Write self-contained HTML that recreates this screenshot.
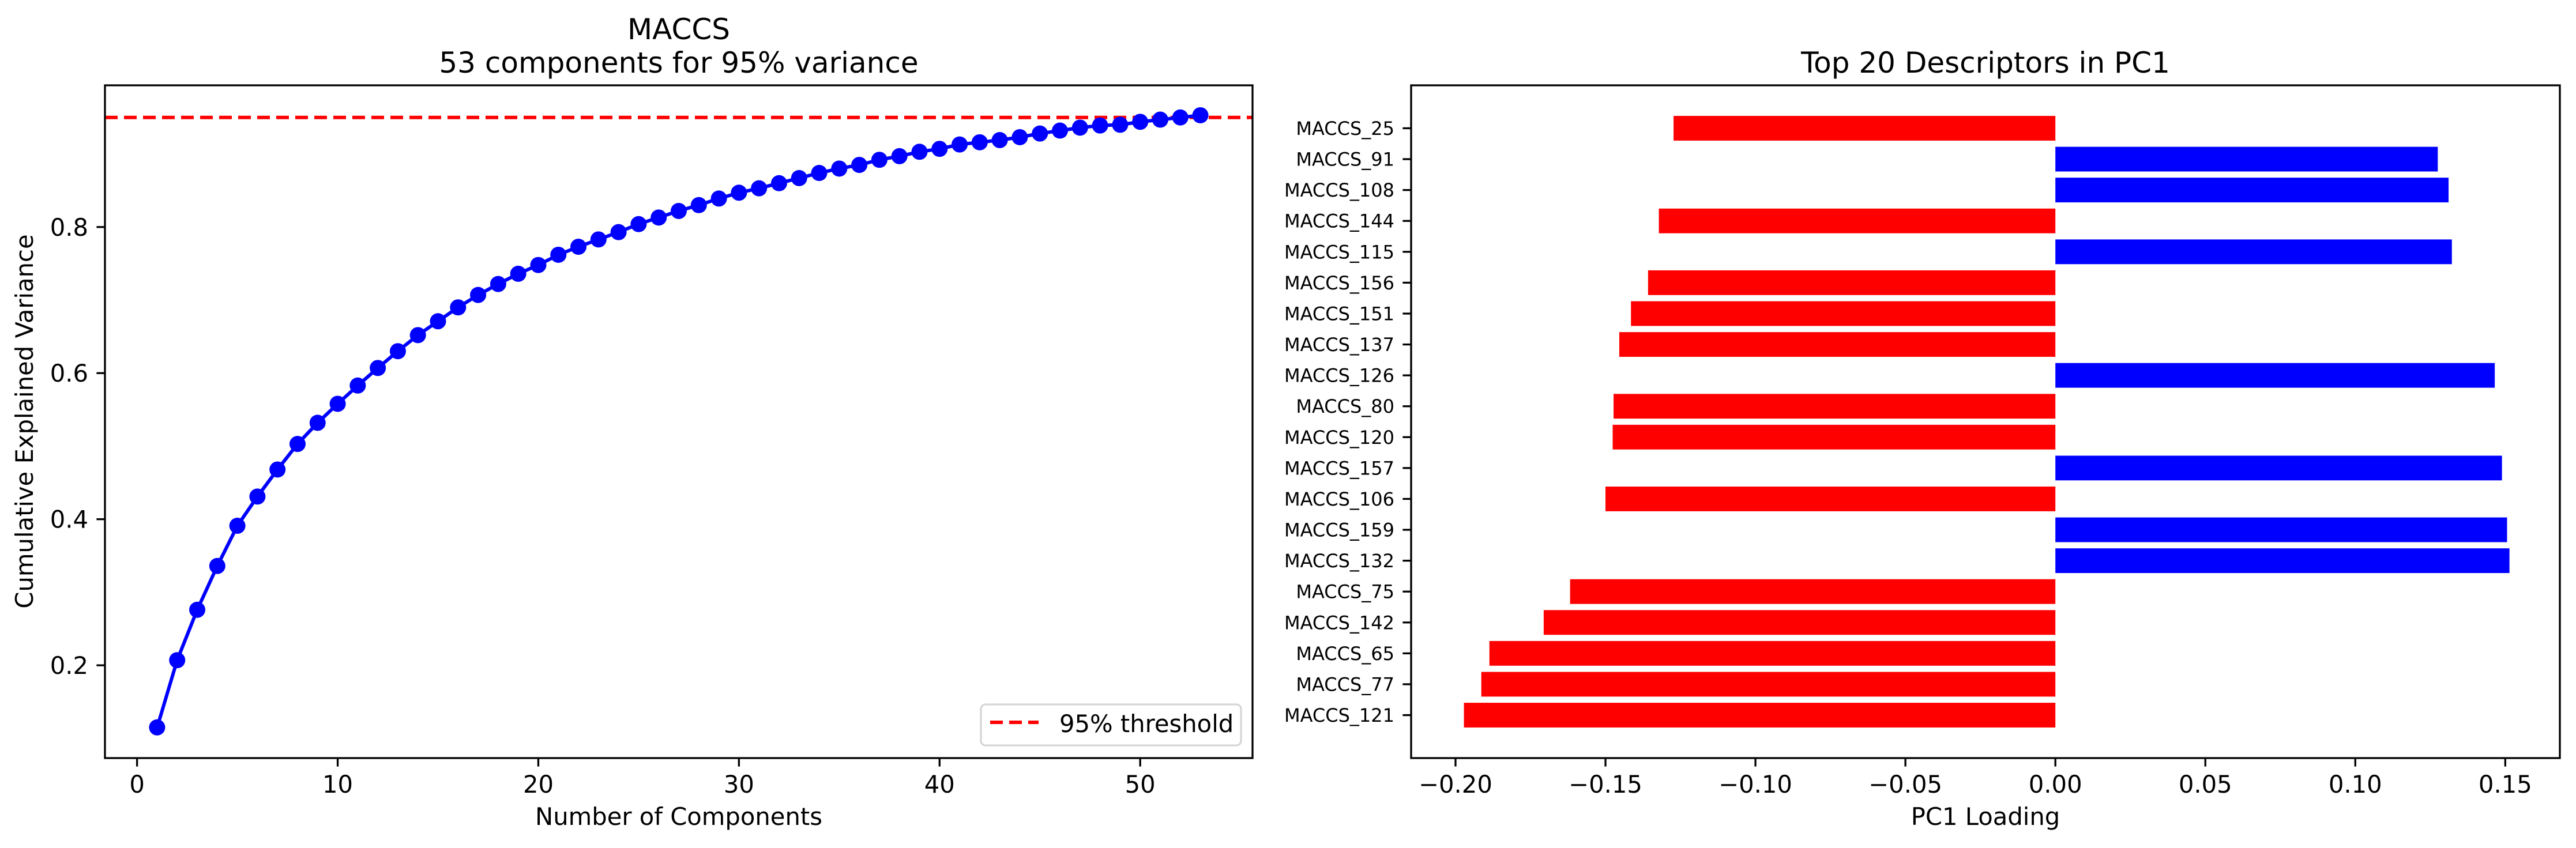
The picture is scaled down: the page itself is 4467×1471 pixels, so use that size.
<!DOCTYPE html>
<html><head><meta charset="utf-8"><style>
html,body{margin:0;padding:0;background:#fff;}
svg{display:block;font-family:"DejaVu Sans","Liberation Sans",sans-serif;}
</style></head>
<body>
<svg id="fig" width="4467" height="1471" viewBox="0 0 4467 1471" xmlns="http://www.w3.org/2000/svg">
<rect width="4467" height="1471" fill="#fff"/>
<g id="left"></g>
<g id="right"></g>
</svg>
<script>
const cumVariance = [0.115,0.207,0.276,0.336,0.391,0.431,0.468,0.503,0.532,0.558,0.583,0.607,0.630,0.652,0.671,0.690,0.707,0.722,0.736,0.748,0.762,0.773,0.783,0.793,0.804,0.813,0.822,0.830,0.839,0.847,0.853,0.860,0.867,0.874,0.880,0.885,0.892,0.897,0.903,0.907,0.913,0.916,0.919,0.923,0.928,0.932,0.936,0.939,0.940,0.944,0.947,0.950,0.953];
const threshold = 0.95;
const leftXTicks = [0,10,20,30,40,50];
const leftYTicks = [0.2,0.4,0.6,0.8];
const descriptors = ["MACCS_121","MACCS_77","MACCS_65","MACCS_142","MACCS_75","MACCS_132","MACCS_159","MACCS_106","MACCS_157","MACCS_120","MACCS_80","MACCS_126","MACCS_137","MACCS_151","MACCS_156","MACCS_115","MACCS_144","MACCS_108","MACCS_91","MACCS_25"];
const loadings = [-0.1972,-0.1914,-0.1887,-0.1706,-0.1618,0.1514,0.1506,-0.150,0.1489,-0.1476,-0.1473,0.1465,-0.1454,-0.1415,-0.1358,0.1322,-0.1322,0.1311,0.1275,-0.1273];
const rightXTicks = [-0.20,-0.15,-0.10,-0.05,0.00,0.05,0.10,0.15];

const NS="http://www.w3.org/2000/svg";
function mk(parent,tag,attrs,text){const e=document.createElementNS(NS,tag);for(const k in attrs)e.setAttribute(k,attrs[k]);if(text!==undefined)e.textContent=text;parent.appendChild(e);return e;}
const fmtMinus=s=>s.replace('-','\u2212');

// ---- Left chart ----
const L=document.getElementById('left');
const lx0=182,lx1=2172,ly0=148,ly1=1315;
const lxMin=-1.6,lxMax=55.6,lyMin=0.073,lyMax=0.994;
const lxs=v=>lx0+(v-lxMin)/(lxMax-lxMin)*(lx1-lx0);
const lys=v=>ly1-(v-lyMin)/(lyMax-lyMin)*(ly1-ly0);
let t;
t=mk(L,'text',{x:1177,y:68,'font-size':50,'text-anchor':'middle'},'MACCS');


t=mk(L,'text',{x:1177,y:126,'font-size':50,'text-anchor':'middle'},'53 components for 95% variance');


const thr=mk(L,'line',{x1:lx0,x2:lx1,y1:lys(threshold),y2:lys(threshold),stroke:'#ff0000','stroke-width':6,'stroke-dasharray':'22 11'});


const pts=cumVariance.map((v,i)=>lxs(i+1).toFixed(1)+','+lys(v).toFixed(1)).join(' ');
const pl=mk(L,'polyline',{points:pts,fill:'none',stroke:'#0000ff','stroke-width':6});


cumVariance.forEach((v,i)=>{const c=mk(L,'circle',{cx:lxs(i+1),cy:lys(v),r:14,fill:'#0000ff'});

});
const la=mk(L,'rect',{x:lx0,y:ly0,width:lx1-lx0,height:ly1-ly0,fill:'none',stroke:'#000','stroke-width':3.3});


leftXTicks.forEach(v=>{const x=lxs(v);mk(L,'line',{x1:x,x2:x,y1:ly1,y2:ly1+14.6,stroke:'#000','stroke-width':3.3});
const tl=mk(L,'text',{x:x,y:1375,'font-size':41.7,'text-anchor':'middle'},String(v));

});
leftYTicks.forEach(v=>{const y=lys(v);mk(L,'line',{x1:lx0-14.6,x2:lx0,y1:y,y2:y,stroke:'#000','stroke-width':3.3});
const tl=mk(L,'text',{x:lx0-29,y:y+15,'font-size':41.7,'text-anchor':'end'},v.toFixed(1));

});
t=mk(L,'text',{x:1177,y:1431,'font-size':41.7,'text-anchor':'middle'},'Number of Components');


t=mk(L,'text',{x:0,y:0,'font-size':41.7,'text-anchor':'middle',transform:'translate(57,731) rotate(-90)'},'Cumulative Explained Variance');


const lg=mk(L,'g',{});


mk(lg,'rect',{x:1701,y:1222,width:451,height:71,rx:8,fill:'#fff','fill-opacity':0.8,stroke:'#d6d6d6','stroke-width':3.3});
mk(lg,'line',{x1:1717,x2:1801,y1:1253,y2:1253,stroke:'#ff0000','stroke-width':6,'stroke-dasharray':'22 11'});
mk(lg,'text',{x:1837,y:1270,'font-size':41.7},'95% threshold');

// ---- Right chart ----
const R=document.getElementById('right');
const rx0=2447,rx1=4439,ry0=148,ry1=1315;
const xMin=-0.2148,xMax=0.1682;
const rxs=v=>rx0+(v-xMin)/(xMax-xMin)*(rx1-rx0);
const n=descriptors.length;
const yMinI=-1.39,yMaxI=n-1+1.39;
const rys=i=>ry1-(i-yMinI)/(yMaxI-yMinI)*(ry1-ry0);
const bandH=(ry1-ry0)/(yMaxI-yMinI);
t=mk(R,'text',{x:3443,y:126,'font-size':50,'text-anchor':'middle'},'Top 20 Descriptors in PC1');


loadings.forEach((v,i)=>{const xa=rxs(Math.min(0,v)),xb=rxs(Math.max(0,v));const yc=rys(i);
const b=mk(R,'rect',{x:xa,y:yc-0.4*bandH,width:xb-xa,height:0.8*bandH,fill:v<0?'#ff0000':'#0000ff'});


mk(R,'line',{x1:rx0-14.6,x2:rx0,y1:yc,y2:yc,stroke:'#000','stroke-width':3.3});
const tl=mk(R,'text',{x:rx0-29,y:yc+11.5,'font-size':32,'text-anchor':'end'},descriptors[i]);

});
const ra=mk(R,'rect',{x:rx0,y:ry0,width:rx1-rx0,height:ry1-ry0,fill:'none',stroke:'#000','stroke-width':3.3});


rightXTicks.forEach(v=>{const x=rxs(v);mk(R,'line',{x1:x,x2:x,y1:ry1,y2:ry1+14.6,stroke:'#000','stroke-width':3.3});
const tl=mk(R,'text',{x:x,y:1375,'font-size':41.7,'text-anchor':'middle'},fmtMinus(v.toFixed(2)));

});
t=mk(R,'text',{x:3443,y:1431,'font-size':41.7,'text-anchor':'middle'},'PC1 Loading');


</script>
</body></html>
